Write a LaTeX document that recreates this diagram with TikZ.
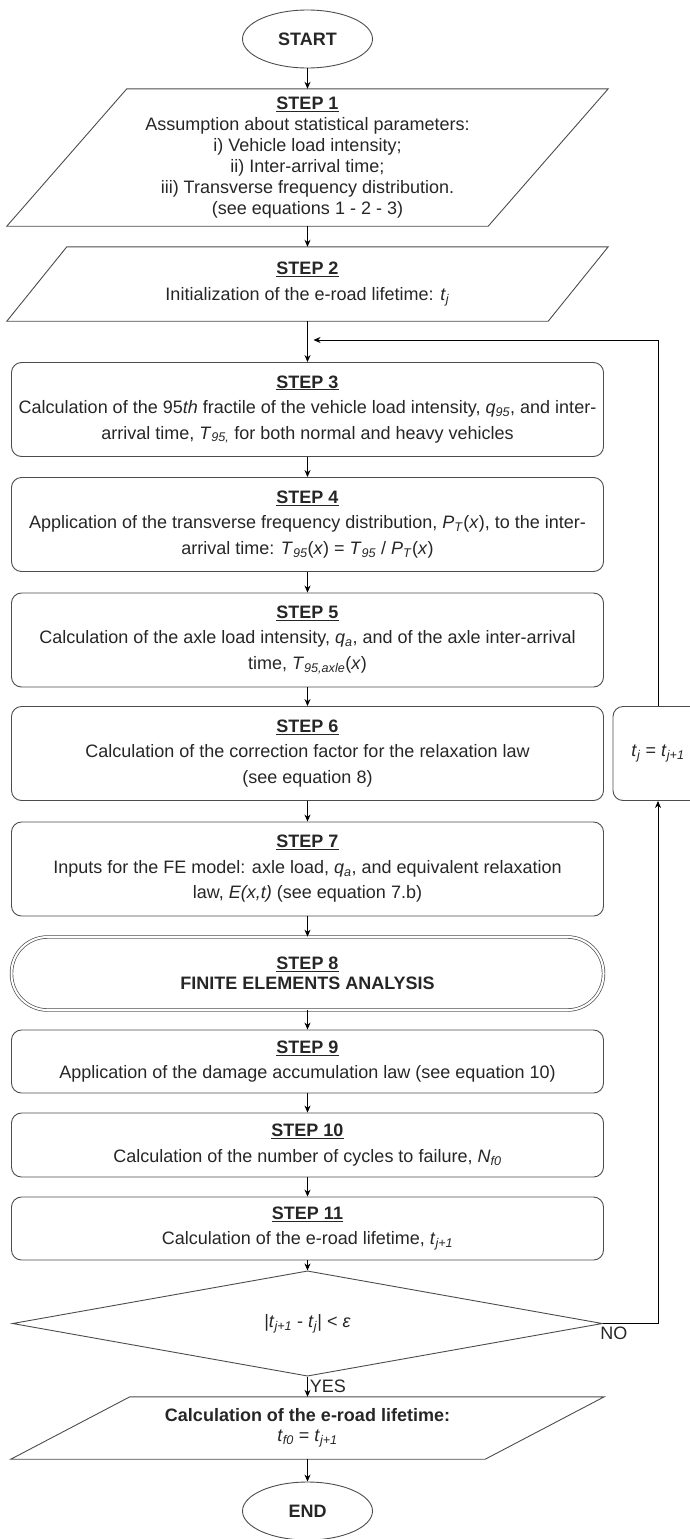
\documentclass[tikz,border=0pt]{standalone}
\usepackage{fontspec}
\setmainfont{Liberation Sans}
\usetikzlibrary{positioning,shapes,arrows.meta,calc}

\newcommand{\isub}[2]{\textit{#1}\textsubscript{\textit{#2}}}
\newcommand{\stephead}[1]{\underline{\textbf{STEP #1}}}

\begin{document}
\begin{tikzpicture}[x=1pt,y=-1pt,
  every node/.style={font=\fontsize{18}{25.5}\selectfont,text=black!85,align=center,inner sep=2pt},
  boxline/.style={draw=black!70,line width=0.9pt},
  stepbox/.style={boxline,rectangle,rounded corners=10pt,minimum width=592pt,minimum height=94pt},
  term/.style={boxline,ellipse,minimum width=130pt,minimum height=58pt,font=\fontsize{18}{21}\selectfont\bfseries},
  flow/.style={-{Stealth[length=7pt,width=6pt]},line width=0.8pt,black}]
  \useasboundingbox (0,0) rectangle (689,1539);

  % start and input
  \node[term] (start) at (307.5,39) {START};
  \node[minimum width=481pt,minimum height=137pt,font=\fontsize{18}{21}\selectfont] (s1) at (307.5,157.5)
    {\stephead{1}\\Assumption about statistical parameters:\\i) Vehicle load intensity;\\ii) Inter-arrival time;\\iii) Transverse frequency distribution.\\(see equations 1 - 2 - 3)};
  \node[minimum width=541pt,minimum height=74pt] (s2) at (307.5,284)
    {\stephead{2}\\Initialization of the e-road lifetime: \isub{t}{j}};

  % process steps
  \node[stepbox] (s3) at (307.5,409.5)
    {\stephead{3}\\Calculation of the 95\textit{th} fractile of the vehicle load intensity, \isub{q}{95}, and inter-\\arrival time, \isub{T}{95,} for both normal and heavy vehicles};
  \node[stepbox] (s4) at (307.5,524.5)
    {\stephead{4}\\Application of the transverse frequency distribution, \isub{P}{T}(\textit{x}), to the inter-\\arrival time: \isub{T}{95}(\textit{x}) = \isub{T}{95} / \isub{P}{T}(\textit{x})};
  \node[stepbox] (s5) at (307.5,640)
    {\stephead{5}\\Calculation of the axle load intensity, \isub{q}{a}, and of the axle inter-arrival\\time, \isub{T}{95,axle}(\textit{x})};
  \node[stepbox] (s6) at (307.5,753.5)
    {\stephead{6}\\Calculation of the correction factor for the relaxation law\\(see equation 8)};
  \node[stepbox] (s7) at (307.5,869)
    {\stephead{7}\\Inputs for the FE model: axle load, \isub{q}{a}, and equivalent relaxation\\law, \textit{E(x,t)} (see equation 7.b)};
  \node[stepbox,double,double distance=2pt,line width=0.7pt,rounded corners=36pt,minimum height=73pt,font=\fontsize{18}{20}\selectfont] (s8) at (307.5,973.5)
    {\stephead{8}\\\textbf{FINITE ELEMENTS ANALYSIS}};
  \node[stepbox,minimum height=63pt] (s9) at (307.5,1061.5)
    {\stephead{9}\\Application of the damage accumulation law (see equation 10)};
  \node[stepbox,minimum height=64pt] (s10) at (307.5,1145)
    {\stephead{10}\\Calculation of the number of cycles to failure, \isub{N}{f0}};
  \node[stepbox,minimum height=63pt] (s11) at (307.5,1228.5)
    {\stephead{11}\\Calculation of the e-road lifetime, \isub{t}{j+1}};

  % check and output
  \node[boxline,diamond,minimum width=590pt,minimum height=83pt,inner sep=0pt] (dec) at (307.5,1323.5)
    {|\isub{t}{j+1} - \isub{t}{j}| < \textit{ε}};
  \node[minimum width=474pt,minimum height=62pt,font=\fontsize{18}{20}\selectfont] (fin) at (307.5,1428)
    {\textbf{Calculation of the e-road lifetime:}\\\isub{t}{f0} = \isub{t}{j+1}};
  \node[term] (end) at (307.5,1511) {END};
  \node[boxline,rectangle,rounded corners=10pt,minimum width=90pt,minimum height=94pt] (tj) at (658,753.5)
    {\isub{t}{j} = \isub{t}{j+1}};
  \coordinate (back) at (313.5,340);

  % slanted outlines of the input boxes
  \foreach \n/\d in {s1/60pt,s2/30pt,fin/59.5pt}
    \draw[boxline] ([xshift=-\d]\n.south west) -- ([xshift=-\d]\n.south east)
      -- ([xshift=\d]\n.north east) -- ([xshift=\d]\n.north west) -- cycle;

  \foreach \a/\b in {start/s1,s1/s2,s2/s3,s3/s4,s4/s5,s5/s6,s6/s7,s7/s8,s8/s9,s9/s10,s10/s11,s11/dec,fin/end}
    \draw[flow] (\a) -- (\b);
  \draw[flow] (dec) -- node[right]{YES} (fin);
  \draw[flow] (dec.east) -| node[pos=0.1,below,yshift=-1pt]{NO} (tj.south);
  \draw[flow] (tj.north) |- (back);
\end{tikzpicture}
\end{document}
